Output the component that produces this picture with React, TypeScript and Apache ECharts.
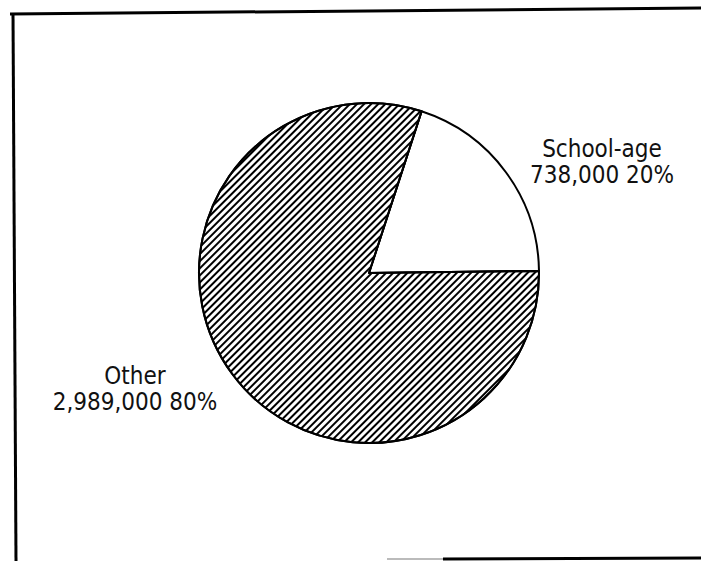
import React, { useEffect, useRef } from "react";
import * as echarts from "echarts";

const categories = ["School-age", "Other"];
const values = [738000, 2989000];

export default function App() {
  const ref = useRef<HTMLDivElement>(null);
  useEffect(() => {
    document.body.style.margin = "0";
    const chart = echarts.init(ref.current!, null, { renderer: "svg" });
    const fills = [
      { color: "#ffffff" },
      {
        color: "#ffffff",
        decal: {
          symbol: "rect",
          symbolSize: 1,
          dashArrayX: [1, 0],
          dashArrayY: [2, 2.2],
          rotation: -Math.PI / 4,
          color: "#000000",
          backgroundColor: "#ffffff",
        },
      },
    ];
    chart.setOption({
      animation: false,
      backgroundColor: "#ffffff",
      graphic: [
        { type: "line", shape: { x1: 10, y1: 14, x2: 701, y2: 8 }, style: { stroke: "#000", lineWidth: 3 } },
        { type: "line", shape: { x1: 13, y1: 13, x2: 16, y2: 561 }, style: { stroke: "#000", lineWidth: 3 } },
        { type: "line", shape: { x1: 387, y1: 559, x2: 443, y2: 559 }, style: { stroke: "#bbb", lineWidth: 2 } },
        { type: "line", shape: { x1: 443, y1: 559, x2: 701, y2: 558 }, style: { stroke: "#000", lineWidth: 3 } },
      ],
      series: [
        {
          type: "pie",
          center: [369, 273],
          radius: 170,
          startAngle: 72,
          clockwise: true,
          silent: true,
          data: categories.map((name, i) => ({
            name,
            value: values[i],
            itemStyle: { ...fills[i], borderColor: "#000", borderWidth: 2 },
          })),
          label: {
            show: true,
            position: "outside",
            color: "#111",
            fontFamily: "'Liberation Sans Narrow', 'DejaVu Sans Condensed', sans-serif",
            fontSize: 24,
            lineHeight: 26,
            align: "center",
            overflow: "none",
            width: 220,
            formatter: (p: any) =>
              p.name + "\n" + Number(p.value).toLocaleString("en-US") + " " + Math.round(p.percent) + "%",
          },
          labelLine: { show: false },
          labelLayout: (p: any) =>
            p.dataIndex === 0
              ? { x: 602, y: 162, align: "center", verticalAlign: "middle" }
              : { x: 135, y: 389, align: "center", verticalAlign: "middle" },
        },
      ],
    });
    return () => chart.dispose();
  }, []);
  return <div ref={ref} style={{ width: 701, height: 561 }} />;
}
